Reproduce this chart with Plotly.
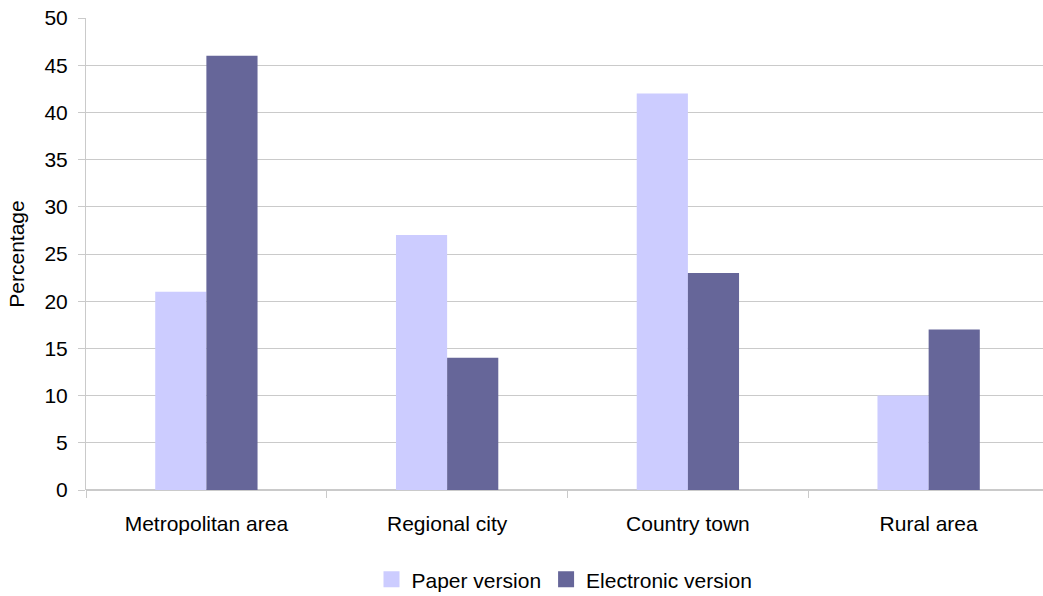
import plotly.graph_objects as go

categories = ["Metropolitan area", "Regional city", "Country town", "Rural area"]
paper_version = [21, 27, 42, 10]
electronic_version = [46, 14, 23, 17]
y_ticks = [0, 5, 10, 15, 20, 25, 30, 35, 40, 45, 50]

series_names = ["Paper version", "Electronic version"]
series_colors = ["#CCCCFF", "#666699"]

FONT = "Liberation Sans, Arial, sans-serif"
GRID = "#CACACA"

fig = go.Figure()
for name, values, color in zip(series_names, [paper_version, electronic_version], series_colors):
    fig.add_trace(go.Bar(name=name, x=categories, y=values, showlegend=False,
                         marker=dict(color=color, line=dict(width=0))))

# legend entries with larger square swatches
for name, color in zip(series_names, series_colors):
    fig.add_trace(go.Scatter(name=name, x=[None], y=[None], mode="markers",
                             marker=dict(symbol="square", size=16, color=color),
                             showlegend=True))

fig.update_layout(
    width=1043, height=596,
    margin=dict(l=86, r=0, t=18, b=106, autoexpand=False),
    paper_bgcolor="white", plot_bgcolor="white",
    barmode="group", bargap=0.575, bargroupgap=0,
    font=dict(family=FONT, size=21, color="black"),
    showlegend=True,
    legend=dict(orientation="h", x=0.5, xanchor="center", y=-0.19, yanchor="middle",
                font=dict(size=21), itemwidth=30, traceorder="normal",
                tracegroupgap=0),
    xaxis=dict(range=[-0.5, 3.475], showgrid=False, zeroline=False,
               showline=False, ticks="outside", tickson="boundaries",
               ticklen=7, tickcolor=GRID, tickfont=dict(size=21),
               ticklabelstandoff=19),
    yaxis=dict(range=[0, 50], tickvals=y_ticks, showgrid=True, gridcolor=GRID,
               zeroline=True, zerolinecolor=GRID, showline=True, linecolor=GRID,
               ticks="outside", ticklen=7, tickcolor=GRID, tickfont=dict(size=21),
               ticklabelstandoff=6,
               title=dict(text="Percentage", font=dict(size=21), standoff=14)),
)

fig.write_html("out.html")
